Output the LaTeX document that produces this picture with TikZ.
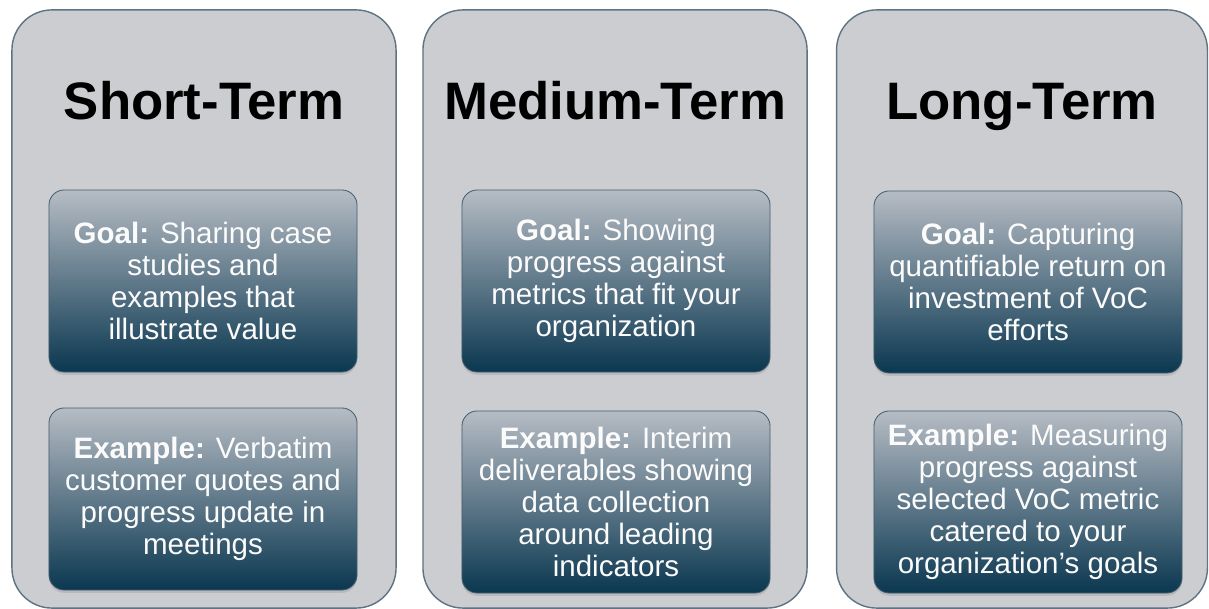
\documentclass[tikz,border=0pt]{standalone}
\usepackage{fontspec}
\setmainfont{Liberation Sans}
\usetikzlibrary{shadows}
\definecolor{panelgray}{RGB}{203,205,209}
\definecolor{paneledge}{RGB}{95,115,130}
\definecolor{boxtop}{RGB}{182,188,196}
\definecolor{boxmiddle}{RGB}{72,104,124}
\definecolor{boxbottom}{RGB}{10,55,80}
\definecolor{boxedge}{RGB}{70,95,112}

\begin{document}
\begin{tikzpicture}[x=0.025cm, y=0.025cm,
    panel/.style={draw=paneledge, line width=1pt, fill=panelgray, rounded corners=1cm,
      minimum width=9.6cm, minimum height=14.95cm},
    termtitle/.style={font=\fontsize{37.5}{40}\selectfont\bfseries, anchor=base},
    infobox/.style={draw=boxedge, line width=0.6pt, rounded corners=0.38cm,
      top color=boxtop, middle color=boxmiddle, bottom color=boxbottom,
      text=white!94!boxtop, align=center,
      minimum width=7.7cm, minimum height=4.55cm, font=\fontsize{21}{22.8}\selectfont,
      drop shadow={shadow xshift=0pt, shadow yshift=-2pt, opacity=0.25}}]
    \useasboundingbox (0,0) rectangle (1209,609);

    \node[panel] (short) at (204,300) {};
    \node[panel] (medium) at (615,300) {};
    \node[panel, minimum width=9.27cm] (long) at (1022,300) {};

    \node[termtitle] (short-title) at (204,489) {Short-Term};
    \node[termtitle] (medium-title) at (615,489) {Medium-Term};
    \node[termtitle] (long-title) at (1022,489) {Long-Term};

    \node[infobox] (short-goal) at (203,328) {\textbf{Goal:} Sharing case\\studies and\\examples that\\illustrate value};
    \node[infobox] (short-ex) at (203,110) {\textbf{Example:} Verbatim\\customer quotes and\\progress update in\\meetings};

    \node[infobox] (medium-goal) at (616,328) {\textbf{Goal:} Showing\\progress against\\metrics that fit your\\organization};
    \node[infobox] (medium-ex) at (616,107) {\textbf{Example:} Interim\\deliverables showing\\data collection\\around leading\\indicators};

    \node[infobox] (long-goal) at (1028,327) {\textbf{Goal:} Capturing\\quantifiable return on\\investment of VoC\\efforts};
    \node[infobox] (long-ex) at (1028,107) {\textbf{Example:} Measuring\\progress against\\selected VoC metric\\catered to your\\organization’s goals};
  \end{tikzpicture}
\end{document}
